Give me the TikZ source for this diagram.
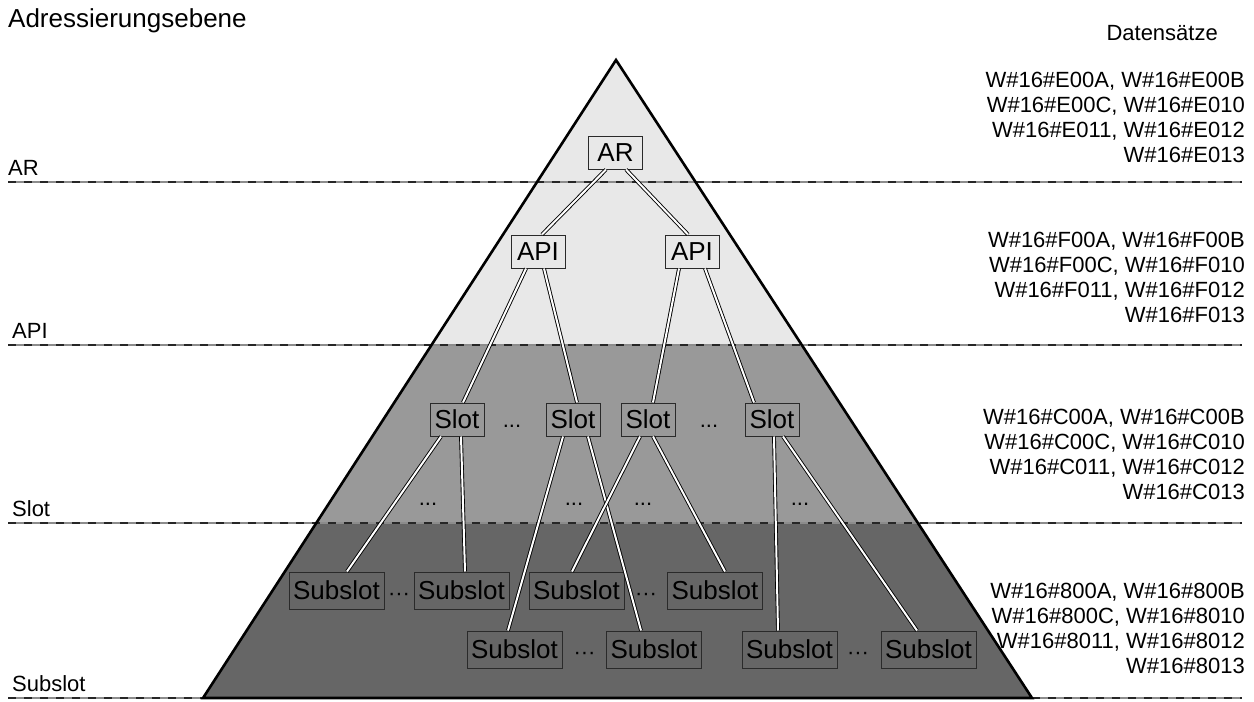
\documentclass[tikz,border=0pt]{standalone}
\usepackage{fontspec}
\setmainfont{Liberation Sans}
\usetikzlibrary{calc}
\definecolor{lightfill}{HTML}{E8E8E8}
\definecolor{midfill}{HTML}{999999}
\definecolor{darkfill}{HTML}{666666}
\definecolor{boxline}{HTML}{2A2A2A}
\begin{document}
\begin{tikzpicture}[x=1pt,y=-1pt,
  levelbox/.style={draw=boxline, line width=1pt, inner sep=0pt, minimum width=54pt, minimum height=33pt,
    text height=18.7pt, text depth=0pt, font=\fontsize{26}{30}\selectfont},
  subbox/.style={levelbox, minimum width=95pt, minimum height=37pt},
  conn/.style={draw=black, line width=0.9pt, double=white, double distance=2pt},
  lvl/.style={inner sep=0pt, anchor=base west, font=\fontsize{22}{26}\selectfont},
  dat/.style={inner sep=0pt, anchor=base east, font=\fontsize{22}{26}\selectfont},
  dots/.style={inner sep=0pt, anchor=base, font=\fontsize{22}{26}\selectfont},
  levelline/.style={line width=1.8pt, draw=black!45},
  leveldash/.style={line width=1.8pt, draw=black!85, dash pattern=on 8pt off 8pt}
]
\useasboundingbox (0,0) rectangle (1254,702);
\coordinate (apex) at (616,60);
\coordinate (bl) at (203,698);
\coordinate (br) at (1032,698);
\begin{scope}
  \clip (apex) -- (bl) -- (br) -- cycle;
  \fill[lightfill] (0,0) rectangle (1254,345);
  \fill[midfill] (0,345) rectangle (1254,523);
  \fill[darkfill] (0,523) rectangle (1254,702);
\end{scope}
% level lines
\foreach \yy in {182,345,523,698} {
  \draw[levelline] (8,\yy) -- (1242,\yy);
  \draw[leveldash] (8,\yy) -- (1242,\yy);
}
\draw[line width=2.6pt, line join=miter] (apex) -- (bl) -- (br) -- cycle;

% nodes
\node[levelbox] (AR) at (615.5,152.5) {AR};
\node[levelbox] (API1) at (538,251.5) {API};
\node[levelbox] (API2) at (692,251.5) {API};
\node[levelbox] (S1) at (457,419.5) {Slot};
\node[levelbox] (S2) at (573,419.5) {Slot};
\node[levelbox] (S3) at (648,419.5) {Slot};
\node[levelbox] (S4) at (772,419.5) {Slot};
\node[subbox] (U1) at (336.5,590.5) {Subslot};
\node[subbox] (U2) at (461.5,590.5) {Subslot};
\node[subbox] (U3) at (576.5,590.5) {Subslot};
\node[subbox] (U4) at (715,590.5) {Subslot};
\node[subbox] (U5) at (514.5,649.5) {Subslot};
\node[subbox] (U6) at (654,649.5) {Subslot};
\node[subbox] (U7) at (789.5,649.5) {Subslot};
\node[subbox] (U8) at (928.5,649.5) {Subslot};

% connectors
\draw[conn] ([xshift=-9.5pt]AR.south) -- ([xshift=4pt]API1.north);
\draw[conn] ([xshift=10.5pt]AR.south) -- ([xshift=-4pt]API2.north);
\draw[conn] ([xshift=-12pt]API1.south) -- ([xshift=6pt]S1.north);
\draw[conn] ([xshift=6pt]API1.south) -- ([xshift=4pt]S2.north);
\draw[conn] ([xshift=-13pt]API2.south) -- ([xshift=5pt]S3.north);
\draw[conn] ([xshift=13pt]API2.south) -- ([xshift=-18pt]S4.north);
\draw[conn] ([xshift=-16pt]S1.south) -- ([xshift=10.5pt]U1.north);
\draw[conn] ([xshift=4pt]S1.south) -- ([xshift=3.5pt]U2.north);
\draw[conn] ([xshift=-10pt]S2.south) -- ([xshift=-6.5pt]U5.north);
\draw[conn] ([xshift=15pt]S2.south) -- ([xshift=-13pt]U6.north);
\draw[conn] ([xshift=-8pt]S3.south) -- ([xshift=-4.5pt]U3.north);
\draw[conn] ([xshift=5pt]S3.south) -- ([xshift=10pt]U4.north);
\draw[conn] ([xshift=2pt]S4.south) -- ([xshift=-11.5pt]U7.north);
\draw[conn] ([xshift=11pt]S4.south) -- ([xshift=-11.5pt]U8.north);

% ellipses
\node[dots] (e1) at (512,427) {...};
\node[dots] (e2) at (709,427) {...};
\node[dots] (e3) at (428,505) {...};
\node[dots] (e4) at (574,505) {...};
\node[dots] (e5) at (643,505) {...};
\node[dots] (e6) at (800,505) {...};
\node[dots] (e7) at (399,600) {···};
\node[dots] (e8) at (646,600) {···};
\node[dots] (e9) at (584.5,659) {···};
\node[dots] (e10) at (858,659) {···};

% left labels
\node[lvl, font=\fontsize{26}{30}\selectfont] (head) at (8,27) {Adressierungsebene};
\node[lvl] (lAR) at (8,175) {AR};
\node[lvl] (lAPI) at (12,338) {API};
\node[lvl] (lSlot) at (12,516) {Slot};
\node[lvl] (lSub) at (12,691) {Subslot};

% right data sets
\node[dat] (dhead) at (1218,40) {Datensätze};
\node[dat] (a1) at (1245,87) {W\#16\#E00A, W\#16\#E00B};
\node[dat] (a2) at (1245,112) {W\#16\#E00C, W\#16\#E010};
\node[dat] (a3) at (1245,137) {W\#16\#E011, W\#16\#E012};
\node[dat] (a4) at (1245,162) {W\#16\#E013};
\node[dat] (b1) at (1245,247) {W\#16\#F00A, W\#16\#F00B};
\node[dat] (b2) at (1245,272) {W\#16\#F00C, W\#16\#F010};
\node[dat] (b3) at (1245,297) {W\#16\#F011, W\#16\#F012};
\node[dat] (b4) at (1245,322) {W\#16\#F013};
\node[dat] (c1) at (1245,424) {W\#16\#C00A, W\#16\#C00B};
\node[dat] (c2) at (1245,449) {W\#16\#C00C, W\#16\#C010};
\node[dat] (c3) at (1245,474) {W\#16\#C011, W\#16\#C012};
\node[dat] (c4) at (1245,499) {W\#16\#C013};
\node[dat] (d1) at (1245,598) {W\#16\#800A, W\#16\#800B};
\node[dat] (d2) at (1245,623) {W\#16\#800C, W\#16\#8010};
\node[dat] (d3) at (1245,648) {W\#16\#8011, W\#16\#8012};
\node[dat] (d4) at (1245,673) {W\#16\#8013};
\end{tikzpicture}
\end{document}
